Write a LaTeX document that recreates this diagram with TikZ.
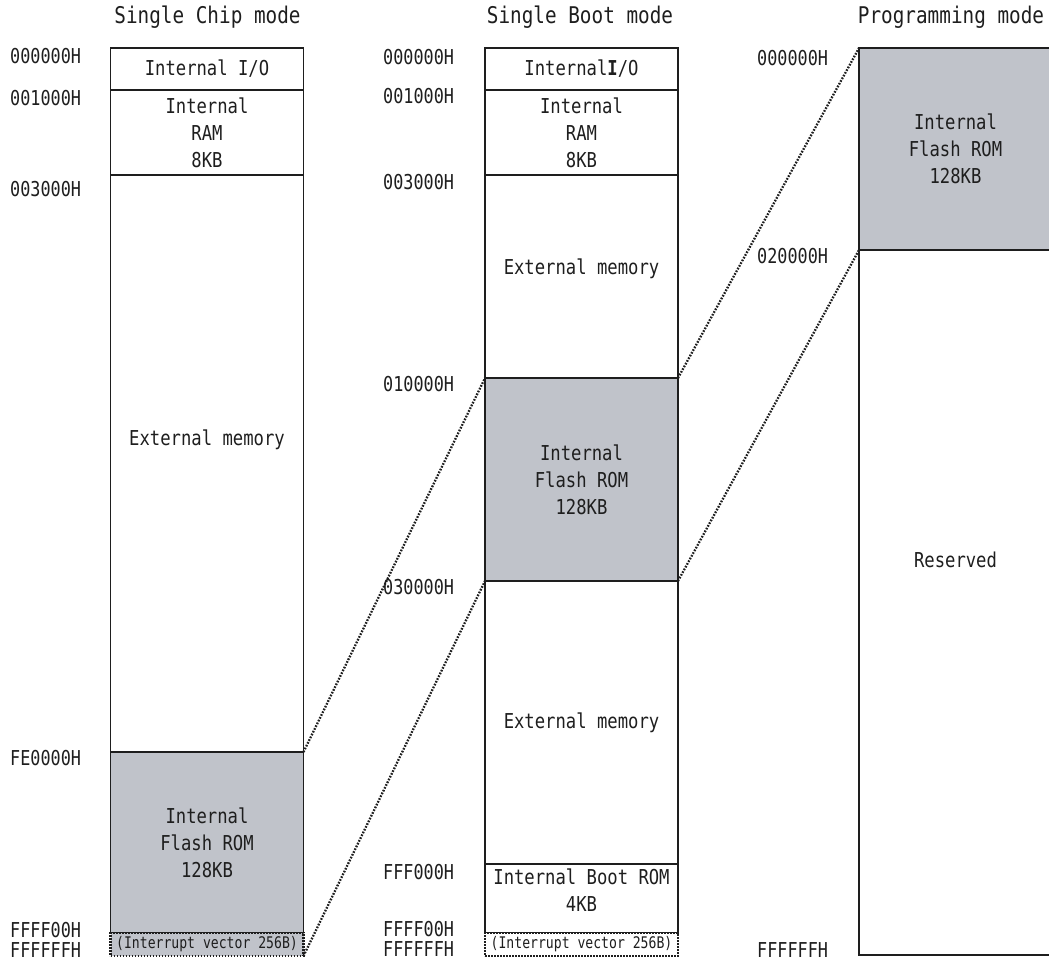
\documentclass[tikz,border=0pt]{standalone}
\usepackage{fontspec}
\setmainfont{DejaVu Sans Mono}[FakeStretch=0.84]
\newfontfamily\narrowmono{DejaVu Sans Mono}[FakeStretch=0.82]
\usepackage{xcolor}
\definecolor{ink}{HTML}{1E1E1E}
\definecolor{romgray}{HTML}{C0C3CA}
\usetikzlibrary{positioning}

\begin{document}
\begin{tikzpicture}[x=1pt,y=-1pt,
  font=\fontsize{20.5}{27}\selectfont,
  every node/.style={align=center,text=ink},
  reg/.style={draw=ink,line width=1.8pt,minimum width=193pt,inner sep=0pt,outer sep=0pt},
  rom/.style={reg,fill=romgray},
  vec/.style={reg,line width=2.2pt,dash pattern=on 1.7pt off 1.3pt,minimum height=23pt,
    font=\narrowmono\fontsize{16}{18}\selectfont},
  addr/.style={anchor=west,inner sep=0pt,font=\narrowmono\fontsize{20.5}{24}\selectfont},
  ttl/.style={font=\fontsize{23}{27}\selectfont,inner sep=0pt},
  link/.style={draw=ink,line width=2.3pt,dash pattern=on 1.7pt off 1.4pt}]
\clip (0,0) rectangle (1049,966);

% --- titles ---
\node[ttl] (t1) at (207.5,17.5) {Single Chip mode};
\node[ttl] (t2) at (580,17.5) {Single Boot mode};
\node[ttl] (t3) at (951,17.5) {Programming mode};

% --- Single Chip mode ---
\node[reg,minimum height=42]  (io1)  at (207,69)    {Internal I/O};
\node[reg,minimum height=85]  (ram1) at (207,132.5) {Internal\\RAM\\8KB};
\node[reg,minimum height=577,label={[yshift=23.5pt]center:External memory}] (ext1) at (207,463.5) {};
\node[rom,minimum height=181] (fl1)  at (207,842.5) {Internal\\Flash ROM\\128KB};
\node[vec,fill=romgray]       (int1) at (207,944.5) {(Interrupt vector 256B)};

\node[addr] (a10) at (10,56.5)  {000000H};
\node[addr] (a11) at (10,98)    {001000H};
\node[addr] (a12) at (10,189.5) {003000H};
\node[addr] (a13) at (10,758)   {FE0000H};
\node[addr] (a14) at (10,930)   {FFFF00H};
\node[addr] (a15) at (10,950.5) {FFFFFFH};

% --- Single Boot mode ---
\node[reg,minimum height=42]  (io2)  at (581.5,69)    {Internal{\bfseries I}/O};
\node[reg,minimum height=85]  (ram2) at (581.5,132.5) {Internal\\RAM\\8KB};
\node[reg,minimum height=203,label={[yshift=8pt]center:External memory}] (ext2a) at (581.5,276.5) {};
\node[rom,minimum height=203] (fl2)  at (581.5,479.5) {Internal\\Flash ROM\\128KB};
\node[reg,minimum height=283] (ext2b) at (581.5,722.5) {External memory};
\node[reg,minimum height=69,label={[yshift=8.5pt]center:Internal Boot ROM\\4KB}] (boot2) at (581.5,898.5) {};
\node[vec,fill=white]         (int2) at (581.5,944.5) {(Interrupt vector 256B)};

\node[addr] (a20) at (383,57)    {000000H};
\node[addr] (a21) at (383,96)    {001000H};
\node[addr] (a22) at (383,182.5) {003000H};
\node[addr] (a23) at (383,384)   {010000H};
\node[addr] (a24) at (383,587)   {030000H};
\node[addr] (a25) at (383,872)   {FFF000H};
\node[addr] (a26) at (383,929)   {FFFF00H};
\node[addr] (a27) at (383,949.5) {FFFFFFH};

% --- Programming mode ---
\node[rom,minimum height=202] (fl3)  at (955.5,149)   {Internal\\Flash ROM\\128KB};
\node[reg,minimum height=705,label={[yshift=42.5pt]center:Reserved}] (res3) at (955.5,602.5) {};

\node[addr] (a30) at (757,58)  {000000H};
\node[addr] (a31) at (757,256) {020000H};
\node[addr] (a32) at (757,950) {FFFFFFH};

% dotted links between the flash areas
\draw[link] (fl1.north east) -- (fl2.north west);
\draw[link] (int1.south east) -- (fl2.south west);
\draw[link] (fl2.north east) -- (fl3.north west);
\draw[link] (fl2.south east) -- (fl3.south west);
\end{tikzpicture}
\end{document}
